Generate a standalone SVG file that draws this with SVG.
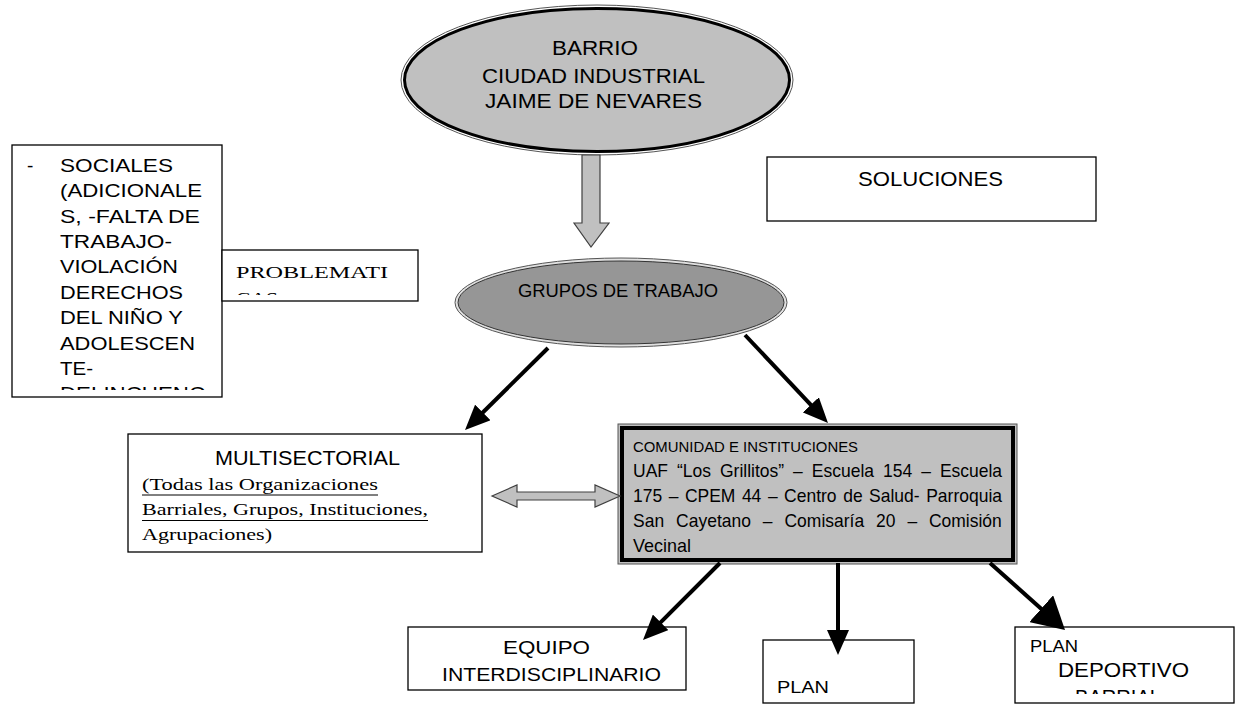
<svg xmlns="http://www.w3.org/2000/svg" width="1241" height="711" viewBox="0 0 1241 711">
<style>
.box{fill:#fff;stroke:#000;stroke-width:1.3}
.sans{font-family:"Liberation Sans",Arial,sans-serif;fill:#000}
.serif{font-family:"Liberation Serif","Times New Roman",serif;fill:#000}
.conn{stroke:#000;stroke-width:4;fill:none}
.block{fill:#c0c0c0;stroke:#404040;stroke-width:1.2}
</style>
<defs>
<marker id="ah" markerUnits="userSpaceOnUse" viewBox="0 0 25 22" markerWidth="25" markerHeight="22" refX="10" refY="11" orient="auto"><path d="M0,0 L25,11 L0,22 z" fill="#000"/></marker>
<marker id="ahBig" markerUnits="userSpaceOnUse" viewBox="0 0 32 36" markerWidth="32" markerHeight="36" refX="12" refY="18" orient="auto"><path d="M0,0 L32,18 L0,36 z" fill="#000"/></marker>
<clipPath id="clipLeft"><rect x="13" y="146" width="208" height="244"/></clipPath>
<clipPath id="clipProb"><rect x="223" y="251" width="194" height="44"/></clipPath>
<clipPath id="clipCom"><rect x="624" y="430" width="387" height="125"/></clipPath>
<clipPath id="clipDep"><rect x="1016" y="628" width="217" height="66"/></clipPath>
</defs>

<g id="barrio">
<ellipse cx="597" cy="80" rx="196" ry="75" fill="none" stroke="#555" stroke-width="1"/>
<ellipse cx="597" cy="80" rx="192.5" ry="71.5" fill="#c0c0c0" stroke="#000" stroke-width="3"/>
<text class="sans" font-size="20" x="552" y="55" textLength="86" lengthAdjust="spacingAndGlyphs">BARRIO</text>
<text class="sans" font-size="20" x="482" y="83" textLength="223" lengthAdjust="spacingAndGlyphs">CIUDAD INDUSTRIAL</text>
<text class="sans" font-size="20" x="485" y="108" textLength="217" lengthAdjust="spacingAndGlyphs">JAIME DE NEVARES</text>
</g>

<g id="grupos">
<ellipse cx="621" cy="302.5" rx="166" ry="44.5" fill="#e0e0e0" stroke="#555" stroke-width="1"/>
<ellipse cx="621" cy="302.5" rx="163" ry="41.5" fill="#969696" stroke="#333" stroke-width="1"/>
<text class="sans" font-size="18" x="518" y="297" textLength="200" lengthAdjust="spacingAndGlyphs">GRUPOS DE TRABAJO</text>
</g>

<g id="sociales">
<rect class="box" x="12" y="145" width="210" height="252"/>
<g clip-path="url(#clipLeft)" class="sans" font-size="19">
<text x="27" y="171.7">-</text>
<text x="60" y="171.7" textLength="113" lengthAdjust="spacingAndGlyphs">SOCIALES</text>
<text x="60" y="197.1" textLength="142" lengthAdjust="spacingAndGlyphs">(ADICIONALE</text>
<text x="60" y="222.5" textLength="140" lengthAdjust="spacingAndGlyphs">S, -FALTA DE</text>
<text x="60" y="247.9" textLength="112" lengthAdjust="spacingAndGlyphs">TRABAJO-</text>
<text x="60" y="273.3" textLength="118" lengthAdjust="spacingAndGlyphs">VIOLACIÓN</text>
<text x="60" y="298.7" textLength="123" lengthAdjust="spacingAndGlyphs">DERECHOS</text>
<text x="60" y="324.1" textLength="123" lengthAdjust="spacingAndGlyphs">DEL NIÑO Y</text>
<text x="60" y="349.5" textLength="135" lengthAdjust="spacingAndGlyphs">ADOLESCEN</text>
<text x="60" y="374.9" textLength="33" lengthAdjust="spacingAndGlyphs">TE-</text>
<text x="60" y="400.3" textLength="145" lengthAdjust="spacingAndGlyphs">DELINCUENC</text>
</g>
</g>

<g id="problematicas">
<rect class="box" x="222" y="250" width="196" height="51"/>
<g clip-path="url(#clipProb)" class="serif" font-size="17.5">
<text x="236" y="278" textLength="152" lengthAdjust="spacingAndGlyphs">PROBLEMATI</text>
<text x="236" y="303.5" textLength="42" lengthAdjust="spacingAndGlyphs">CAS</text>
</g>
</g>

<g id="soluciones">
<rect class="box" x="767" y="157" width="329" height="64"/>
<text class="sans" font-size="19.5" x="858" y="186" textLength="145" lengthAdjust="spacingAndGlyphs">SOLUCIONES</text>
</g>

<g id="multisectorial">
<rect class="box" x="128" y="434" width="354" height="118"/>
<text class="sans" font-size="19.5" x="215" y="465" textLength="185" lengthAdjust="spacingAndGlyphs">MULTISECTORIAL</text>
<text class="serif" font-size="17" x="142" y="490" textLength="236" lengthAdjust="spacingAndGlyphs">(Todas las Organizaciones</text>
<line x1="142" y1="495" x2="378" y2="495" stroke="#000" stroke-width="1"/>
<text class="serif" font-size="17" x="142" y="515" textLength="286" lengthAdjust="spacingAndGlyphs">Barriales, Grupos, Instituciones,</text>
<line x1="142" y1="520.5" x2="428" y2="520.5" stroke="#000" stroke-width="1"/>
<text class="serif" font-size="17" x="142" y="540" textLength="130" lengthAdjust="spacingAndGlyphs">Agrupaciones)</text>
</g>

<g id="comunidad">
<rect x="618" y="424" width="399" height="140" fill="#c0c0c0" stroke="#555" stroke-width="1"/>
<rect x="622" y="428" width="391" height="132" fill="#c0c0c0" stroke="#000" stroke-width="4"/>
<g clip-path="url(#clipCom)" class="sans" font-size="19">
<text x="633" y="452" font-size="15.5" textLength="225" lengthAdjust="spacingAndGlyphs">COMUNIDAD E INSTITUCIONES</text>
<text x="633" y="477.3" textLength="35" lengthAdjust="spacingAndGlyphs">UAF</text>
<text x="677" y="477.3" textLength="34" lengthAdjust="spacingAndGlyphs">“Los</text>
<text x="720" y="477.3" textLength="64.1" lengthAdjust="spacingAndGlyphs">Grillitos”</text>
<text x="793.1" y="477.3" textLength="9.7" lengthAdjust="spacingAndGlyphs">–</text>
<text x="811.8" y="477.3" textLength="62.2" lengthAdjust="spacingAndGlyphs">Escuela</text>
<text x="883" y="477.3" textLength="29.2" lengthAdjust="spacingAndGlyphs">154</text>
<text x="921.2" y="477.3" textLength="9.7" lengthAdjust="spacingAndGlyphs">–</text>
<text x="939.9" y="477.3" textLength="62.2" lengthAdjust="spacingAndGlyphs">Escuela</text>
<text x="633" y="501.9" textLength="29.2" lengthAdjust="spacingAndGlyphs">175</text>
<text x="668.7" y="501.9" textLength="9.7" lengthAdjust="spacingAndGlyphs">–</text>
<text x="684.9" y="501.9" textLength="50.5" lengthAdjust="spacingAndGlyphs">CPEM</text>
<text x="741.9" y="501.9" textLength="19.4" lengthAdjust="spacingAndGlyphs">44</text>
<text x="767.9" y="501.9" textLength="9.7" lengthAdjust="spacingAndGlyphs">–</text>
<text x="784.1" y="501.9" textLength="52.5" lengthAdjust="spacingAndGlyphs">Centro</text>
<text x="843.2" y="501.9" textLength="19.4" lengthAdjust="spacingAndGlyphs">de</text>
<text x="869.1" y="501.9" textLength="50.5" lengthAdjust="spacingAndGlyphs">Salud-</text>
<text x="926.2" y="501.9" textLength="75.8" lengthAdjust="spacingAndGlyphs">Parroquia</text>
<text x="633" y="526.7" textLength="31.1" lengthAdjust="spacingAndGlyphs">San</text>
<text x="676.1" y="526.7" textLength="74.8" lengthAdjust="spacingAndGlyphs">Cayetano</text>
<text x="762.8" y="526.7" textLength="9.7" lengthAdjust="spacingAndGlyphs">–</text>
<text x="784.5" y="526.7" textLength="79.6" lengthAdjust="spacingAndGlyphs">Comisaría</text>
<text x="876" y="526.7" textLength="19.4" lengthAdjust="spacingAndGlyphs">20</text>
<text x="907.4" y="526.7" textLength="9.7" lengthAdjust="spacingAndGlyphs">–</text>
<text x="929" y="526.7" textLength="72.8" lengthAdjust="spacingAndGlyphs">Comisión</text>
<text x="633" y="551.7" textLength="58" lengthAdjust="spacingAndGlyphs">Vecinal</text>
</g>
</g>

<g id="equipo">
<rect class="box" x="408" y="627" width="278" height="63"/>
<text class="sans" font-size="19" x="503" y="654" textLength="87" lengthAdjust="spacingAndGlyphs">EQUIPO</text>
<text class="sans" font-size="19" x="442" y="681" textLength="219" lengthAdjust="spacingAndGlyphs">INTERDISCIPLINARIO</text>
</g>

<g id="plan">
<rect class="box" x="763" y="640" width="151" height="63"/>
<text class="sans" font-size="16" x="777" y="693" textLength="52" lengthAdjust="spacingAndGlyphs">PLAN</text>
</g>

<g id="plan-deportivo">
<rect class="box" x="1015" y="627" width="219" height="76"/>
<g clip-path="url(#clipDep)" class="sans">
<text font-size="16" x="1030" y="652" textLength="48" lengthAdjust="spacingAndGlyphs">PLAN</text>
<text font-size="20" x="1058" y="677" textLength="131" lengthAdjust="spacingAndGlyphs">DEPORTIVO</text>
<text font-size="20" x="1075" y="704" textLength="86" lengthAdjust="spacingAndGlyphs">BARRIAL</text>
</g>
</g>

<g id="connectors">
<polygon class="block" points="582,155 600,155 600,223 609,223 591,247 574,223 582,223"/>
<polygon class="block" points="492,496 517,485 517,492 595,492 595,485 620,496 595,507 595,500 517,500 517,507"/>
<path class="conn" d="M548,348 L475.7,419.5" marker-end="url(#ah)"/>
<path class="conn" d="M745,335 L817.7,412.1" marker-end="url(#ah)"/>
<path class="conn" d="M720,563 L653.6,629.4" marker-end="url(#ah)"/>
<path class="conn" d="M838,563 L838,640" marker-end="url(#ah)"/>
<path class="conn" stroke-width="9" d="M990,563 L1050.1,616.7" marker-end="url(#ahBig)"/>
</g>
</svg>
